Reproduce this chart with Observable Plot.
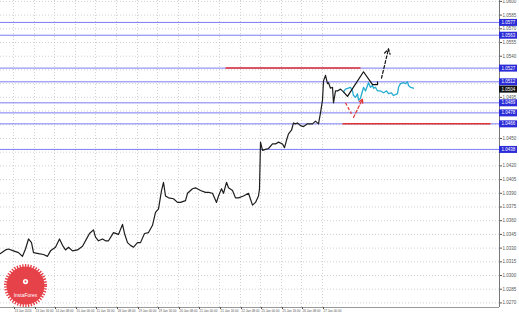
<!DOCTYPE html>
<html><head><meta charset="utf-8">
<script src="https://cdn.jsdelivr.net/npm/d3@7"></script>
<script src="https://cdn.jsdelivr.net/npm/@observablehq/plot@0.6"></script>
<style>body{margin:0;background:#fff}svg{display:block}</style>
</head><body><div id="chart"></div>
<script>
// Price history (bar index, price)
const priceBars = [0,5,8,13,18,22,25,28,31,33,38,43,47,50,55,59,62,65,68,72,77,82,87,89,93,95,98,102,105,108,113,118,122,124,127,130,133,137,140,144,148,152,155,158,161,163,165,168,173,177,180,185,187,192,195,200,205,208,212,216,218,221,223,226,228,232,235,238,243,248,252,255,258,259,260,262,265,268,272,275,278,282,284,286,288,291,293,295,297,300,303,307,312,315,318,320,322,323,325,327,328,330,332,333,335,337,340,343];
const priceValues = [1.0324,1.0328,1.0329,1.0327,1.0325,1.0321,1.0329,1.0340,1.0336,1.0325,1.0324,1.0323,1.0321,1.0327,1.0331,1.0340,1.0333,1.0328,1.0331,1.0327,1.0328,1.0332,1.0342,1.0346,1.0350,1.0342,1.0338,1.0340,1.0338,1.0338,1.0347,1.0345,1.0356,1.0346,1.0336,1.0333,1.0331,1.0336,1.0336,1.0346,1.0347,1.0355,1.0369,1.0373,1.0393,1.0402,1.0387,1.0385,1.0384,1.0380,1.0380,1.0382,1.0390,1.0395,1.0396,1.0393,1.0391,1.0391,1.0390,1.0380,1.0387,1.0395,1.0390,1.0402,1.0396,1.0393,1.0385,1.0385,1.0387,1.0390,1.0377,1.0380,1.0387,1.0395,1.0446,1.0437,1.0438,1.0439,1.0444,1.0444,1.0446,1.0444,1.0440,1.0448,1.0455,1.0459,1.0467,1.0466,1.0467,1.0464,1.0463,1.0466,1.0466,1.0469,1.0466,1.0478,1.0492,1.0513,1.0519,1.0510,1.0511,1.0505,1.0506,1.0489,1.0502,1.0502,1.0504,1.0501];
// Subsequent actual price (cyan)
const actualBars = [343,345,350,352,353,355,357,358,360,362,363,365,367,368,370,372,373,375,377,380,383,386,388,391,393,397,398,400,403,405,407,408,410,413];
const actualValues = [1.0501,1.0504,1.0506,1.0502,1.0497,1.0495,1.0499,1.0492,1.0494,1.0502,1.0506,1.0502,1.0508,1.0511,1.0506,1.0508,1.0505,1.0506,1.0502,1.0502,1.0500,1.0502,1.0499,1.0500,1.0497,1.0499,1.0506,1.0510,1.0511,1.0510,1.0512,1.0508,1.0506,1.0505];
// Forecast zigzag (black) and arrows
const forecastBars = [343,347,363,372,377,377];
const forecastValues = [1.0501,1.0496,1.0523,1.0509,1.0509,1.0512];
const upArrow = [{b1: 381, p1: 1.0516, b2: 388, p2: 1.0548}];
const redDown = [{b1: 345, p1: 1.0489, b2: 351, p2: 1.0477}];
const redUp = [{b1: 353, p1: 1.0473, b2: 362, p2: 1.0493}];
// Levels
const blueLevels = [1.0577, 1.0563, 1.0527, 1.0512, 1.0489, 1.0478, 1.0466, 1.0438];
const currentPrice = [1.0504];
const redLevels = [{from: 225, to: 360, price: 1.0527}, {from: 342, to: 490, price: 1.0466}];
// Axes
const yTicks = [1.0600,1.0585,1.0570,1.0555,1.0540,1.0525,1.0510,1.0495,1.0480,1.0465,1.0450,1.0435,1.0420,1.0405,1.0390,1.0375,1.0360,1.0345,1.0330,1.0315,1.0300,1.0285,1.0270];
const xTickBars = [13,34,54,75,95,116,137,157,178,198,219,240,260,281,301,322];
const xLabels = ["13 Jan 2016","13 Jan 16:00","14 Jan 08:00","15 Jan 00:00","15 Jan 16:00","18 Jan 08:00","19 Jan 00:00","19 Jan 16:00","20 Jan 08:00","21 Jan 00:00","21 Jan 16:00","22 Jan 08:00","25 Jan 00:00","25 Jan 16:00","26 Jan 08:00","27 Jan 00:00"];
const logo = [{bar: 25, price: 1.0289, name: "InstaForex"}];

const price = priceBars.map((b, i) => ({bar: b, value: priceValues[i]}));
const actual = actualBars.map((b, i) => ({bar: b, value: actualValues[i]}));
const forecast = forecastBars.map((b, i) => ({bar: b, value: forecastValues[i]}));
const allLevels = blueLevels.concat(currentPrice);
const labelTicks = yTicks.filter(t => allLevels.every(l => Math.abs(t - l) > 0.00055));

const BLUE = "#7c7cf2", BOX = "#2b2bd8", RED = "#e33232";
const chart = Plot.plot({
  width: 519, height: 314,
  marginLeft: 0, marginRight: 20, marginTop: 0, marginBottom: 7,
  style: {fontFamily: "Liberation Sans, sans-serif", fontSize: "5px", background: "white", overflow: "visible"},
  x: {domain: [0, 499], axis: null},
  y: {domain: [1.0265, 1.0601], axis: null},
  marks: [
    Plot.gridY(yTicks, {stroke: "#bdbdbd", strokeOpacity: 0.7, strokeDasharray: "1,2"}),
    Plot.gridX(xTickBars, {stroke: "#bdbdbd", strokeOpacity: 0.7, strokeDasharray: "1,2"}),
    Plot.ruleY(blueLevels, {stroke: BLUE, strokeWidth: 1}),
    Plot.link(redLevels, {x1: "from", x2: "to", y1: "price", y2: "price", stroke: RED, strokeWidth: 1.5}),
    Plot.line(price, {x: "bar", y: "value", stroke: "#1e1e1e", strokeWidth: 1.2}),
    Plot.line(actual, {x: "bar", y: "value", stroke: "#25acd0", strokeWidth: 1.3}),
    Plot.line(forecast, {x: "bar", y: "value", stroke: "#111", strokeWidth: 1.2}),
    Plot.arrow(upArrow, {x1: "b1", y1: "p1", x2: "b2", y2: "p2", stroke: "#111", strokeWidth: 1.2, strokeDasharray: "3,2", headLength: 7}),
    Plot.link(redDown, {x1: "b1", y1: "p1", x2: "b2", y2: "p2", stroke: RED, strokeWidth: 1.2, strokeDasharray: "3,2"}),
    Plot.arrow(redUp, {x1: "b1", y1: "p1", x2: "b2", y2: "p2", stroke: RED, strokeWidth: 1.2, strokeDasharray: "3,2", headLength: 5}),
    Plot.dot(logo, {x: "bar", y: "price", r: 19, fill: "#e6424a", stroke: "#e6424a", strokeWidth: 5, strokeDasharray: "1.3,1.3"}),
    Plot.dot(logo, {x: "bar", y: "price", r: 2.6, dy: -4, fill: "white"}),
    Plot.dot(logo, {x: "bar", y: "price", r: 1, dy: -4, fill: "#e6424a"}),
    Plot.text(logo, {x: "bar", y: "price", text: "name", dy: 10, fill: "white", fontSize: 5}),
    Plot.ruleX([499], {stroke: "#777"}),
    Plot.ruleY([1.0265], {stroke: "#999"}),
    Plot.axisY(labelTicks, {anchor: "right", tickSize: 2, tickPadding: 1, fontSize: 4.5, color: "#555", tickFormat: d => d.toFixed(4)}),
    Plot.axisX(xTickBars, {anchor: "bottom", tickSize: 2, tickPadding: 0, fontSize: 3.1, color: "#555", textAnchor: "start", dx: 1, tickFormat: d => xLabels[xTickBars.indexOf(d)]}),
    Plot.ruleY(blueLevels, {stroke: BOX, strokeWidth: 7, insetLeft: 499, insetRight: -18}),
    Plot.text(blueLevels, {y: d => d, frameAnchor: "right", dx: 2, textAnchor: "start", fill: "white", fontSize: 4.5, text: d => d.toFixed(4)}),
    Plot.ruleY(currentPrice, {stroke: "#111", strokeWidth: 7, insetLeft: 499, insetRight: -18}),
    Plot.text(currentPrice, {y: d => d, frameAnchor: "right", dx: 2, textAnchor: "start", fill: "white", fontSize: 4.5, text: d => d.toFixed(4)})
  ]
});
document.getElementById("chart").appendChild(chart);
</script>
</body></html>
